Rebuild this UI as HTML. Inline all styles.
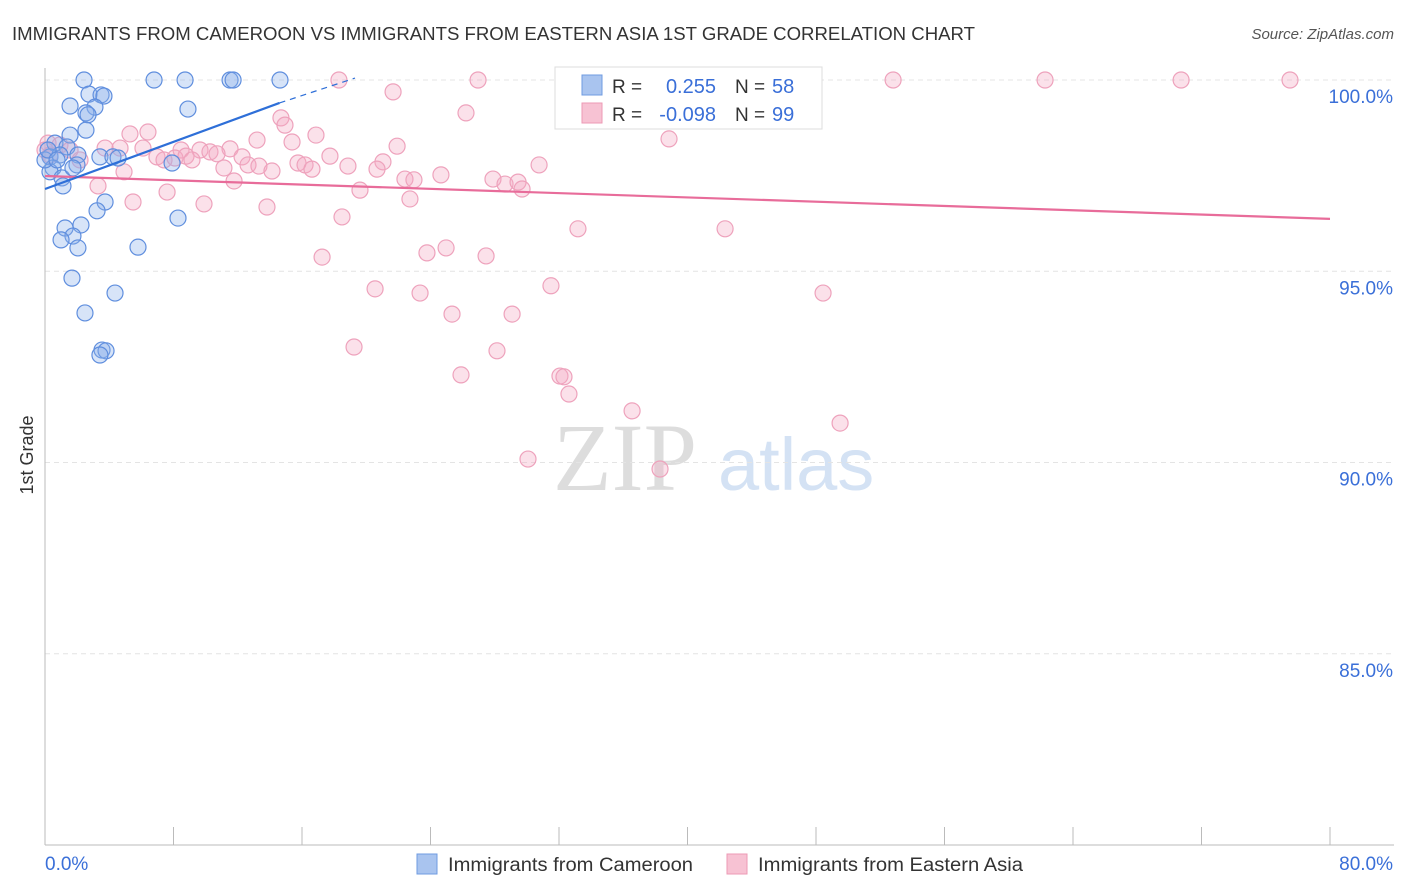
<!DOCTYPE html>
<html><head><meta charset="utf-8"><style>
body{margin:0;background:#fff;font-family:"Liberation Sans",sans-serif;}
svg{display:block}
</style></head><body>
<svg id="chart" width="1406" height="892" xmlns="http://www.w3.org/2000/svg">
<text x="12" y="40" font-size="18" fill="#333" textLength="963" lengthAdjust="spacingAndGlyphs">IMMIGRANTS FROM CAMEROON VS IMMIGRANTS FROM EASTERN ASIA 1ST GRADE CORRELATION CHART</text>
<text x="1394" y="39" font-size="15" fill="#555" font-style="italic" text-anchor="end">Source: ZipAtlas.com</text>
<text x="33" y="455" font-size="18" fill="#333" transform="rotate(-90 33 455)" text-anchor="middle">1st Grade</text>
<g font-size="96">
<text x="553" y="490" fill="#ddd" font-family="Liberation Serif,serif">ZIP</text>
<text x="718" y="490" fill="#d4e2f4" font-size="74">atlas</text>
</g>
<g id="grid"></g><g id="axes"></g><g id="marks"></g>
<g>
<rect x="555" y="67" width="267" height="62" fill="#fff" stroke="#ddd"/>
<rect x="582" y="75" width="20" height="20" fill="#a9c4ef" stroke="#6f9be0"/>
<rect x="582" y="103" width="20" height="20" fill="#f7c2d3" stroke="#ec9ab5"/>
<text x="612" y="93" font-size="19" fill="#333">R =</text>
<text x="716" y="93" font-size="20" fill="#3a6fd8" text-anchor="end">0.255</text>
<text x="735" y="93" font-size="19" fill="#333">N =</text>
<text x="772" y="93" font-size="20" fill="#3a6fd8">58</text>
<text x="612" y="121" font-size="19" fill="#333">R =</text>
<text x="716" y="121" font-size="20" fill="#3a6fd8" text-anchor="end">-0.098</text>
<text x="735" y="121" font-size="19" fill="#333">N =</text>
<text x="772" y="121" font-size="20" fill="#3a6fd8">99</text>
</g>
<g>
<rect x="417" y="854" width="20" height="20" fill="#a9c4ef" stroke="#6f9be0"/>
<text x="448" y="871" font-size="19" fill="#333" textLength="245" lengthAdjust="spacingAndGlyphs">Immigrants from Cameroon</text>
<rect x="727" y="854" width="20" height="20" fill="#f7c2d3" stroke="#ec9ab5"/>
<text x="758" y="871" font-size="19" fill="#333" textLength="265" lengthAdjust="spacingAndGlyphs">Immigrants from Eastern Asia</text>
</g>
</svg>
<script>
const yTicks=[100,95,90,85];
const yTickLabels=["100.0%","95.0%","90.0%","85.0%"];
const xTickVals=[0,8,16,24,32,40,48,56,64,72,80];
const blueX=[2.43,6.79,8.72,11.52,11.71,14.63,2.74,3.49,3.67,1.56,3.11,8.90,2.55,2.68,2.55,1.56,0.62,1.37,0.31,0.93,2.05,3.42,4.23,4.55,7.91,0.50,1.99,0.31,1.06,1.12,3.74,3.24,8.28,2.24,1.25,1.74,1.00,2.05,5.79,1.68,4.36,2.49,3.55,3.80,3.42,0,0.19,0.75,1.74];
const blueY=[100,100,100,100,100,100,99.63,99.61,99.58,99.32,99.29,99.24,99.14,99.09,98.69,98.56,98.35,98.25,97.99,98.04,98.04,97.99,97.99,97.96,97.83,97.70,97.78,97.60,97.44,97.23,96.81,96.58,96.39,96.21,96.13,95.92,95.82,95.61,95.63,94.82,94.43,93.91,92.94,92.92,92.81,97.91,98.17,97.91,97.70];
const pinkX=[18.30,26.96,37.05,37.85,52.80,62.26,70.73,77.51,21.67,26.21,14.69,14.94,6.41,5.29,16.87,13.20,38.85,21.92,4.67,3.74,8.47,6.10,0.19,0.93,9.65,10.27,11.52,15.38,6.97,7.41,8.09,8.78,9.15,10.71,12.27,17.74,21.04,12.64,13.32,11.14,14.13,15.75,16.19,16.62,18.86,20.67,30.76,4.92,11.77,22.41,22.97,24.65,27.89,28.64,29.45,29.70,3.30,7.60,19.61,5.48,9.90,13.82,22.72,18.49,33.18,42.34,24.97,23.78,17.25,27.46,20.55,23.35,31.50,48.44,25.34,29.08,19.24,28.14,25.90,32.06,32.31,32.62,36.55,49.50,30.07,38.29,0,0.31,1.56,2.18];
const pinkY=[100,100,100,100,100,100,100,100,99.69,99.14,99.01,98.82,98.64,98.59,98.56,98.43,98.46,98.27,98.22,98.22,98.17,98.22,98.35,98.30,98.17,98.12,98.20,98.38,97.99,97.91,97.96,98.01,97.91,98.07,97.99,98.01,97.86,97.78,97.75,97.70,97.62,97.83,97.78,97.67,97.75,97.67,97.78,97.60,97.36,97.41,97.39,97.52,97.41,97.28,97.33,97.15,97.23,97.07,97.12,96.81,96.76,96.68,96.89,96.42,96.11,96.11,95.61,95.48,95.37,95.40,94.54,94.43,94.62,94.43,93.88,93.88,93.02,92.92,92.29,92.26,92.24,91.79,91.35,91.03,90.09,89.83,98.17,98.04,98.17,97.91];
const blueTrend=[[0,97.15],[14.6,99.40]];
const blueTrendExt=[[14.6,99.40],[19.3,100.05]];
const pinkTrend=[[0,97.49],[80,96.37]];
const NS="http://www.w3.org/2000/svg";
const sx=v=>45+v/80*1285;
const sy=v=>80+(100-v)*38.25;
function mk(tag,attrs,parent){const e=document.createElementNS(NS,tag);for(const k in attrs)e.setAttribute(k,attrs[k]);parent.appendChild(e);return e;}
const grid=document.getElementById('grid'),axes=document.getElementById('axes'),marks=document.getElementById('marks');
yTicks.forEach((t,i)=>{
 const l=mk('line',{x1:45,x2:1394,y1:sy(t),y2:sy(t),stroke:'#e4e4e4','stroke-dasharray':'5,4'},grid);
 
 
 const tx=mk('text',{x:1393,y:sy(t)+23,'font-size':19,fill:'#3a6fd8','text-anchor':'end'},axes);
 tx.textContent=yTickLabels[i];
 
 
});
const ya=mk('line',{x1:45,x2:45,y1:68,y2:845,stroke:'#bbb'},axes);


const xa=mk('line',{x1:45,x2:1394,y1:845,y2:845,stroke:'#bbb'},axes);


xTickVals.forEach(t=>{
 const l=mk('line',{x1:sx(t),x2:sx(t),y1:827,y2:845,stroke:'#bbb'},axes);
 
 
});
const xl0=mk('text',{x:45,y:870,'font-size':19,fill:'#3a6fd8'},axes);xl0.textContent='0.0%';


const xl1=mk('text',{x:1393,y:870,'font-size':19,fill:'#3a6fd8','text-anchor':'end'},axes);xl1.textContent='80.0%';


pinkX.forEach((v,i)=>{
 const c=mk('circle',{cx:sx(v),cy:sy(pinkY[i]),r:8,fill:'rgba(244,168,195,0.35)',stroke:'#eea2bc','stroke-width':1.2},marks);
 
 
});
blueX.forEach((v,i)=>{
 const c=mk('circle',{cx:sx(v),cy:sy(blueY[i]),r:8,fill:'rgba(140,178,236,0.35)',stroke:'#5f8ede','stroke-width':1.2},marks);
 
 
});
const pt=mk('line',{x1:sx(pinkTrend[0][0]),y1:sy(pinkTrend[0][1]),x2:sx(pinkTrend[1][0]),y2:sy(pinkTrend[1][1]),stroke:'#e86c9a','stroke-width':2.2},marks);


const bt=mk('line',{x1:sx(blueTrend[0][0]),y1:sy(blueTrend[0][1]),x2:sx(blueTrend[1][0]),y2:sy(blueTrend[1][1]),stroke:'#2e6fd8','stroke-width':2.2},marks);


const be=mk('line',{x1:sx(blueTrendExt[0][0]),y1:sy(blueTrendExt[0][1]),x2:sx(blueTrendExt[1][0]),y2:sy(blueTrendExt[1][1]),stroke:'#2e6fd8','stroke-width':1.2,'stroke-dasharray':'6,5'},marks);


</script>
</body></html>
